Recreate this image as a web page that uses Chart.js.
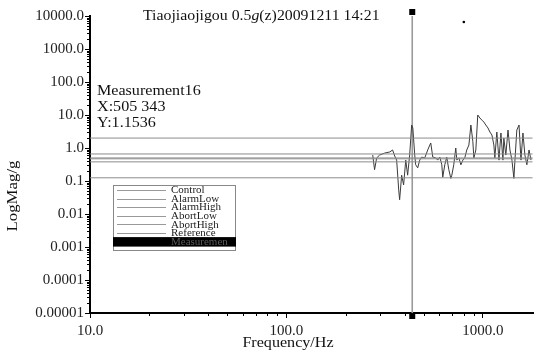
<!DOCTYPE html>
<html>
<head>
<meta charset="utf-8">
<script src="https://cdn.jsdelivr.net/npm/chart.js@4/dist/chart.umd.min.js"></script>
<style>
html,body{margin:0;padding:0;background:#fff;}
#wrap{position:relative;width:542px;height:352px;}
</style>
</head>
<body>
<div id="wrap"><canvas id="c" width="542" height="352"></canvas></div>
<script>
// ---- data ----
const titleParts = ["Tiaojiaojigou 0.5", "g", "(z)20091211 14:21"];
const xTickValues = [10, 100, 1000];
const xTickLabels = ["10.0", "100.0", "1000.0"];
const yTickValues = [1e-5, 1e-4, 1e-3, 1e-2, 1e-1, 1, 10, 100, 1000, 10000];
const yTickLabels = ["0.00001", "0.0001", "0.001", "0.01", "0.1", "1.0", "10.0", "100.0", "1000.0", "10000.0"];
const freqRange = [10, 1800];
const legendNames = ["Control", "AlarmLow", "AlarmHigh", "AbortLow", "AbortHigh", "Reference", "Measuremen"];
const levelValues = [0.5, 0.38, 0.66, 0.125, 2.0, 0.47];
const measFreq = [275, 281, 288, 298, 316, 336, 347, 356, 364, 373, 377, 386, 395, 405, 414, 424, 434, 440, 450, 455,
  466, 477, 488, 506, 524, 537, 543, 556, 576, 589, 604, 618, 625, 640, 655, 671, 687, 695, 711, 728,
  737, 755, 773, 791, 809, 828, 849, 869, 889, 900, 921, 942, 966, 989, 1012, 1035, 1062, 1086, 1112, 1138,
  1151, 1178, 1208, 1236, 1265, 1279, 1309, 1343, 1374, 1406, 1439, 1455, 1489, 1528, 1563, 1600, 1637, 1675, 1718, 1758];
const measValue = [0.61, 0.22, 0.50, 0.61, 0.70, 0.76, 0.87, 0.57, 0.43, 0.053, 0.027, 0.15, 0.076, 0.43, 0.15, 0.61, 4.98, 4.04, 0.61, 0.31,
  0.25, 0.43, 0.53, 0.50, 0.87, 1.23, 1.42, 0.53, 0.50, 0.43, 0.53, 0.31, 0.13, 0.31, 0.53, 0.22, 0.12, 0.15, 0.31, 1.0,
  0.43, 0.50, 0.31, 0.43, 0.50, 0.87, 1.23, 4.98, 1.6, 0.50, 0.87, 10.0, 8.1, 7.0, 6.1, 4.98, 4.04, 3.05, 2.48, 1.23,
  0.50, 3.05, 0.43, 2.85, 0.43, 2.0, 0.61, 3.5, 0.87, 0.43, 0.12, 0.38, 3.5, 4.98, 0.43, 2.85, 0.61, 0.31, 0.87, 0.43];
const cursorFreq = 437;
const cursorLabel = ["Measurement16", "X:505 343", "Y:1.1536"];

// ---- build ----
const serif = "'Liberation Serif', 'DejaVu Serif', serif";
const levelDatasets = levelValues.map((v, i) => ({
  label: legendNames[i],
  data: [{x: freqRange[0], y: v}, {x: 1790, y: v}],
  borderColor: '#8c8c8c',
  borderWidth: 1,
  pointRadius: 0,
  fill: false
}));
const measDataset = {
  label: 'Measurement',
  data: measFreq.map((f, i) => ({x: f, y: measValue[i]})),
  borderColor: '#3a3a3a',
  borderWidth: 1,
  pointRadius: 0,
  fill: false,
  tension: 0
};
const cursorDataset = {
  label: 'cursor',
  data: [{x: cursorFreq, y: 1e-5}, {x: cursorFreq, y: 1e4}],
  borderColor: '#9a9a9a',
  borderWidth: 1.6,
  pointRadius: 0,
  fill: false
};

function stretchText(ctx, t, x, y, sx) {
  ctx.save(); ctx.translate(x, y); ctx.scale(sx, 1); ctx.fillText(t, 0, 0);
  const w = ctx.measureText(t).width * sx; ctx.restore(); return w;
}

const decor = {
  id: 'decor',
  afterDraw(chart) {
    const ctx = chart.ctx;
    const xs = chart.scales.x, ys = chart.scales.y;
    const ca = chart.chartArea;
    ctx.save();
    // minor ticks
    ctx.strokeStyle = '#000';
    ctx.lineWidth = 1;
    for (let e = -5; e < 4; e++) {
      for (let m = 2; m <= 9; m++) {
        const py = Math.round(ys.getPixelForValue(m * Math.pow(10, e))) + 0.5;
        ctx.beginPath(); ctx.moveTo(ca.left - 3, py); ctx.lineTo(ca.left, py); ctx.stroke();
      }
    }
    for (let e = 1; e < 4; e++) {
      for (let m = 2; m <= 9; m++) {
        const v = m * Math.pow(10, e);
        if (v > freqRange[1]) continue;
        const px = Math.round(xs.getPixelForValue(v)) + 0.5;
        ctx.beginPath(); ctx.moveTo(px, ca.bottom); ctx.lineTo(px, ca.bottom + 3); ctx.stroke();
      }
    }
    // cursor markers
    const cx = xs.getPixelForValue(cursorFreq);
    ctx.fillStyle = '#000';
    ctx.fillRect(cx - 3, ca.top - 7, 6, 6);
    ctx.fillRect(cx - 3, ca.bottom + 1, 6, 5);
    ctx.beginPath(); ctx.arc(xs.getPixelForValue(800), ca.top + 6, 1.3, 0, Math.PI * 2); ctx.fill();

    // title
    ctx.fillStyle = '#111';
    ctx.textBaseline = 'middle';
    ctx.textAlign = 'left';
    let tx = 143;
    ctx.font = "14px " + serif;
    tx += stretchText(ctx, titleParts[0], tx, 16, 1.13);
    ctx.font = "italic 14px " + serif;
    tx += stretchText(ctx, titleParts[1], tx, 16, 1.13);
    ctx.font = "14px " + serif;
    stretchText(ctx, titleParts[2], tx, 16, 1.13);

    // cursor annotation
    ctx.font = "14px " + serif;
    cursorLabel.forEach((t, i) => stretchText(ctx, t, 97, 91 + i * 16, 1.15));

    // axis titles
    ctx.font = "14px " + serif;
    ctx.textAlign = 'center';
    stretchText(ctx, "Frequency/Hz", 288, 343, 1.15);
    ctx.save();
    ctx.translate(13, 196);
    ctx.rotate(-Math.PI / 2);
    ctx.save(); ctx.scale(1.2, 1); ctx.fillText("LogMag/g", 0, 0); ctx.restore();
    ctx.restore();

    // legend box
    const lx = 113, ly = 185, lw = 122, lh = 65;
    ctx.fillStyle = '#fff';
    ctx.fillRect(lx, ly, lw, lh);
    ctx.strokeStyle = '#888';
    ctx.lineWidth = 1;
    ctx.strokeRect(lx + 0.5, ly + 0.5, lw, lh);
    ctx.font = "10px " + serif;
    ctx.textAlign = 'left';
    const step = 8.6;
    legendNames.forEach((n, i) => {
      const yy = ly + 5 + i * step;
      if (i === legendNames.length - 1) {
        ctx.fillStyle = '#000';
        ctx.fillRect(lx, yy - 4.5, lw + 1, 9.5);
        ctx.fillStyle = '#5a5a5a';
        stretchText(ctx, n, 171, yy + 0.5, 1.1);
      } else {
        ctx.strokeStyle = '#999';
        ctx.beginPath(); ctx.moveTo(117, Math.round(yy) + 0.5); ctx.lineTo(166, Math.round(yy) + 0.5); ctx.stroke();
        ctx.fillStyle = '#222';
        stretchText(ctx, n, 171, yy + 0.5, 1.1);
      }
    });
    ctx.restore();
  }
};

new Chart(document.getElementById('c'), {
  type: 'line',
  data: { datasets: [...levelDatasets, measDataset, cursorDataset] },
  options: {
    responsive: false,
    animation: false,
    layout: { padding: { top: 16, right: 9, left: 0, bottom: 0 } },
    plugins: { legend: { display: false }, tooltip: { enabled: false }, title: { display: false } },
    scales: {
      x: {
        type: 'logarithmic',
        min: freqRange[0], max: freqRange[1],
        afterBuildTicks: s => { s.ticks = xTickValues.map(v => ({value: v})); },
        afterFit: s => { s.height = 39; },
        border: { display: true, color: '#000', width: 2 },
        grid: { drawOnChartArea: false, drawTicks: true, tickLength: 5, color: '#000' },
        ticks: {
          autoSkip: false, maxRotation: 0, padding: 4, color: '#222',
          font: { family: serif, size: 15 },
          callback: v => { const i = xTickValues.indexOf(v); return i >= 0 ? xTickLabels[i] : ''; }
        }
      },
      y: {
        type: 'logarithmic',
        min: yTickValues[0], max: yTickValues[yTickValues.length - 1],
        afterBuildTicks: s => { s.ticks = yTickValues.map(v => ({value: v})); },
        afterFit: s => { s.width = 90; },
        border: { display: true, color: '#000', width: 2 },
        grid: { drawOnChartArea: false, drawTicks: true, tickLength: 5, color: '#000' },
        ticks: {
          autoSkip: false, padding: 1, color: '#222',
          font: { family: serif, size: 15 },
          callback: v => { const i = yTickValues.findIndex(t => Math.abs(t - v) / t < 1e-6); return i >= 0 ? yTickLabels[i] : ''; }
        }
      }
    }
  },
  plugins: [decor]
});
</script>
</body>
</html>
